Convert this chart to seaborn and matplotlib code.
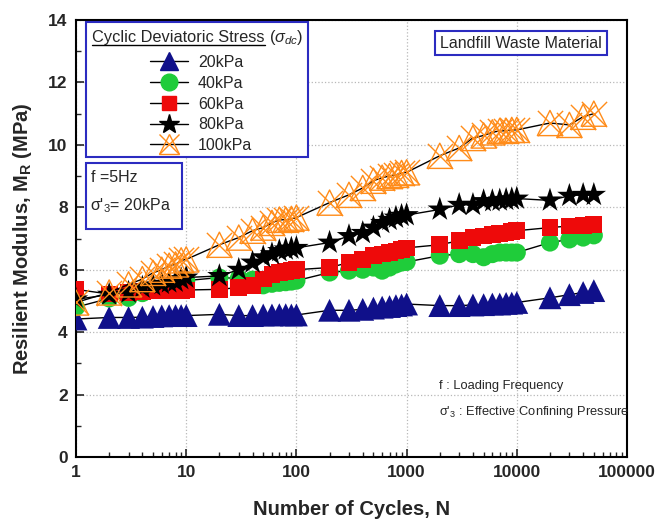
import matplotlib
matplotlib.use("Agg")
import matplotlib.pyplot as plt
from matplotlib.lines import Line2D
from matplotlib.patches import Rectangle
from matplotlib.ticker import FixedLocator, FixedFormatter, LogLocator, NullFormatter, MultipleLocator
import seaborn as sns
import pandas as pd

# ---------------- data ----------------
cycles = [1, 2, 3, 4, 5, 6, 7, 8, 9, 10,
          20, 30, 40, 50, 60, 70, 80, 90, 100,
          200, 300, 400, 500, 600, 700, 800, 900, 1000,
          2000, 3000, 4000, 5000, 6000, 7000, 8000, 9000, 10000,
          20000, 30000, 40000, 50000]

mr_20kpa = [4.42, 4.47, 4.47, 4.48, 4.50, 4.52, 4.53, 4.53, 4.53, 4.53,
            4.57, 4.53, 4.53, 4.55, 4.55, 4.56, 4.56, 4.55, 4.55,
            4.70, 4.70, 4.73, 4.77, 4.80, 4.82, 4.85, 4.87, 4.90,
            4.85, 4.85, 4.87, 4.88, 4.90, 4.90, 4.92, 4.93, 4.95,
            5.10, 5.20, 5.27, 5.33]
mr_40kpa = [4.80, 5.08, 5.10, 5.25, 5.35, 5.40, 5.45, 5.50, 5.55, 5.65,
            5.75, 5.72, 5.68, 5.50, 5.55, 5.58, 5.60, 5.62, 5.65,
            5.91, 5.97, 6.00, 6.07, 5.97, 6.07, 6.17, 6.23, 6.25,
            6.45, 6.50, 6.50, 6.40, 6.50, 6.55, 6.55, 6.55, 6.55,
            6.87, 6.97, 7.03, 7.10]
mr_60kpa = [5.37, 5.22, 5.27, 5.30, 5.32, 5.33, 5.33, 5.33, 5.33, 5.35,
            5.37, 5.43, 5.50, 5.70, 5.85, 5.90, 5.95, 5.97, 6.00,
            6.07, 6.23, 6.33, 6.45, 6.50, 6.55, 6.60, 6.65, 6.70,
            6.80, 6.93, 7.03, 7.08, 7.12, 7.15, 7.18, 7.22, 7.25,
            7.35, 7.40, 7.42, 7.45]
mr_80kpa = [5.05, 5.20, 5.27, 5.43, 5.50, 5.55, 5.60, 5.62, 5.70, 5.75,
            5.80, 6.00, 6.23, 6.40, 6.50, 6.60, 6.65, 6.68, 6.70,
            6.87, 7.08, 7.18, 7.35, 7.50, 7.60, 7.67, 7.73, 7.75,
            7.93, 8.08, 8.08, 8.20, 8.20, 8.22, 8.24, 8.26, 8.28,
            8.22, 8.37, 8.40, 8.40]
mr_100kpa = [4.95, 5.27, 5.53, 5.70, 5.90, 6.00, 6.13, 6.17, 6.30, 6.33,
             6.80, 7.03, 7.25, 7.35, 7.50, 7.60, 7.60, 7.63, 7.67,
             8.15, 8.40, 8.62, 8.85, 8.95, 9.00, 9.04, 9.10, 9.12,
             9.65, 9.90, 10.22, 10.30, 10.40, 10.45, 10.45, 10.48, 10.48,
             10.70, 10.64, 10.90, 11.00]

series_labels = ["20kPa", "40kPa", "60kPa", "80kPa", "100kPa"]
x_tick_values = [1, 10, 100, 1000, 10000, 100000]
x_tick_labels = ["1", "10", "100", "1000", "10000", "100000"]
y_tick_values = [0, 2, 4, 6, 8, 10, 12, 14]

# ---------------- style ----------------
sns.set_style("ticks")
plt.rcParams["font.family"] = ["Liberation Sans", "DejaVu Sans"]
plt.rcParams["mathtext.fontset"] = "custom"
plt.rcParams["mathtext.rm"] = "Liberation Sans"
plt.rcParams["mathtext.it"] = "Liberation Sans:italic"
plt.rcParams["mathtext.bf"] = "Liberation Sans:bold"

NAVY = "#10108a"
GREEN = "#1fcc3a"
RED = "#ee0a0a"
BLACK = "#000000"
ORANGE = "#ff8c1a"
BOXBLUE = "#2b2bc0"

fig = plt.figure(figsize=(6.68, 5.25), dpi=100)
W, H = 668.0, 525.0
ax_l, ax_r, ax_t, ax_b = 76.0, 627.0, 20.0, 457.0
ax = fig.add_axes([ax_l / W, 1 - ax_b / H, (ax_r - ax_l) / W, (ax_b - ax_t) / H])


def axpos(px, py):
    return ((px - ax_l) / (ax_r - ax_l), (ax_b - py) / (ax_b - ax_t))


frames = []
for lab, vals in zip(series_labels,
                     [mr_20kpa, mr_40kpa, mr_60kpa, mr_80kpa, mr_100kpa]):
    frames.append(pd.DataFrame({"N": cycles, "MR": vals, "stress": lab}))
df = pd.concat(frames, ignore_index=True)

marker_specs = {
    "20kPa": dict(marker="^", color=NAVY, s=270),
    "40kPa": dict(marker="o", color=GREEN, s=170),
    "60kPa": dict(marker="s", color=RED, s=145),
    "80kPa": dict(marker="*", color=BLACK, s=340),
}

z = 2
for lab in series_labels:
    d = df[df["stress"] == lab]
    sns.lineplot(data=d, x="N", y="MR", color="black", lw=1.0,
                 estimator=None, sort=True, ax=ax, zorder=z, legend=False)
    if lab == "100kPa":
        sns.scatterplot(data=d, x="N", y="MR", marker="^", s=330,
                        facecolors="none", edgecolors=ORANGE, linewidths=1.0,
                        ax=ax, zorder=z + 1, legend=False)
        sns.scatterplot(data=d, x="N", y="MR", marker="x", s=330,
                        color=ORANGE, linewidths=1.0,
                        ax=ax, zorder=z + 1, legend=False)
    else:
        spec = marker_specs[lab]
        sns.scatterplot(data=d, x="N", y="MR", marker=spec["marker"],
                        s=spec["s"], color=spec["color"], edgecolor="none",
                        linewidth=0, ax=ax, zorder=z + 1, legend=False)
    z += 2

# ---------------- axes ----------------
ax.set_xscale("log")
ax.set_xlim(1, 100000)
ax.set_ylim(0, 14)
ax.xaxis.set_major_locator(FixedLocator(x_tick_values))
ax.xaxis.set_major_formatter(FixedFormatter(x_tick_labels))
ax.xaxis.set_minor_locator(LogLocator(base=10, subs=range(2, 10)))
ax.xaxis.set_minor_formatter(NullFormatter())
ax.yaxis.set_major_locator(FixedLocator(y_tick_values))
ax.yaxis.set_minor_locator(MultipleLocator(1))

ax.tick_params(axis="both", which="major", direction="in", length=6, width=1.2,
               labelsize=12.5, pad=6)
ax.tick_params(axis="both", which="minor", direction="in", length=3.5, width=1.0)
for t in ax.get_xticklabels() + ax.get_yticklabels():
    t.set_fontweight("bold")

for sp in ax.spines.values():
    sp.set_visible(True)
    sp.set_linewidth(1.5)
    sp.set_color("black")

ax.grid(True, which="major", linestyle=":", color="#b8b8b8", lw=0.9, zorder=0)
ax.set_axisbelow(True)

ax.set_xlabel("Number of Cycles, N", fontsize=14.5, fontweight="bold", labelpad=14)
ax.set_ylabel(r"Resilient Modulus, M$_{\mathbf{R}}$ (MPa)", fontsize=14.5,
              fontweight="bold", labelpad=10)

# ---------------- legend box ----------------
x0, y0 = axpos(86, 22)
x1, y1 = axpos(308, 157)
ax.add_patch(Rectangle((x0, y1), x1 - x0, y0 - y1, transform=ax.transAxes,
                       fill=True, facecolor="white", edgecolor=BOXBLUE,
                       lw=1.5, zorder=20))
tx, ty = axpos(92, 37)
title_main = ax.text(tx, ty, "Cyclic Deviatoric Stress", transform=ax.transAxes,
                     fontsize=11.8, ha="left", va="center", zorder=21)
fig.canvas.draw()
renderer = fig.canvas.get_renderer()
bb = title_main.get_window_extent(renderer)
inv = ax.transAxes.inverted()
ux0, uy = inv.transform((bb.x0, bb.y0 - 0.5))
ux1, _ = inv.transform((bb.x1, bb.y0 - 0.5))
ax.add_line(Line2D([ux0, ux1], [uy, uy], transform=ax.transAxes, color="black",
                   lw=1.0, zorder=21))
px_end, _ = inv.transform((bb.x1, bb.y0))
ax.text(px_end + 0.008, ty, r"($\mathit{\sigma_{dc}}$)", transform=ax.transAxes,
        fontsize=11.8, ha="left", va="center", zorder=21)

handles = [
    Line2D([0], [0], color="black", lw=1.0, marker="^", ms=13,
           markerfacecolor=NAVY, markeredgecolor=NAVY),
    Line2D([0], [0], color="black", lw=1.0, marker="o", ms=12,
           markerfacecolor=GREEN, markeredgecolor=GREEN),
    Line2D([0], [0], color="black", lw=1.0, marker="s", ms=10.5,
           markerfacecolor=RED, markeredgecolor=RED),
    Line2D([0], [0], color="black", lw=1.0, marker="*", ms=15,
           markerfacecolor=BLACK, markeredgecolor=BLACK),
    (Line2D([0], [0], color="black", lw=1.0, marker="^", ms=15,
            markerfacecolor="none", markeredgecolor=ORANGE, markeredgewidth=1.0),
     Line2D([0], [0], color="none", lw=0, marker="x", ms=15,
            markeredgecolor=ORANGE, markeredgewidth=1.0)),
]
lx, ly = axpos(150, 55)
leg = ax.legend(handles, series_labels, loc="upper left", bbox_to_anchor=(lx, ly),
                bbox_transform=ax.transAxes, frameon=False, fontsize=11.5,
                handlelength=2.4, handletextpad=0.6, labelspacing=0.36,
                borderpad=0, borderaxespad=0)
leg.set_zorder(22)

# ---------------- other annotations ----------------
bx, by = axpos(440, 43)
ax.text(bx, by, "Landfill Waste Material", transform=ax.transAxes, fontsize=11.5,
        ha="left", va="center", zorder=21,
        bbox=dict(boxstyle="square,pad=0.3", facecolor="white",
                  edgecolor=BOXBLUE, lw=1.5))

x0, y0 = axpos(86, 163)
x1, y1 = axpos(182, 229)
ax.add_patch(Rectangle((x0, y1), x1 - x0, y0 - y1, transform=ax.transAxes,
                       fill=True, facecolor="white", edgecolor=BOXBLUE,
                       lw=1.5, zorder=20))
fx, fy = axpos(91, 177)
ax.text(fx, fy, "f =5Hz", transform=ax.transAxes, fontsize=11.5,
        ha="left", va="center", zorder=21)
sx, sy = axpos(90, 206)
ax.text(sx, sy, r"$\mathrm{\sigma}$'$_{3}$= 20kPa", transform=ax.transAxes,
        fontsize=11.5, ha="left", va="center", zorder=21)

nx, ny = axpos(439, 386)
ax.text(nx, ny, "f : Loading Frequency", transform=ax.transAxes, fontsize=9.3,
        ha="left", va="center", zorder=21)
nx2, ny2 = axpos(439, 412)
ax.text(nx2, ny2, r"$\mathrm{\sigma}$'$_{3}$ : Effective Confining Pressure",
        transform=ax.transAxes, fontsize=9.3, ha="left", va="center", zorder=21)

fig.savefig("out.png", dpi=100)
